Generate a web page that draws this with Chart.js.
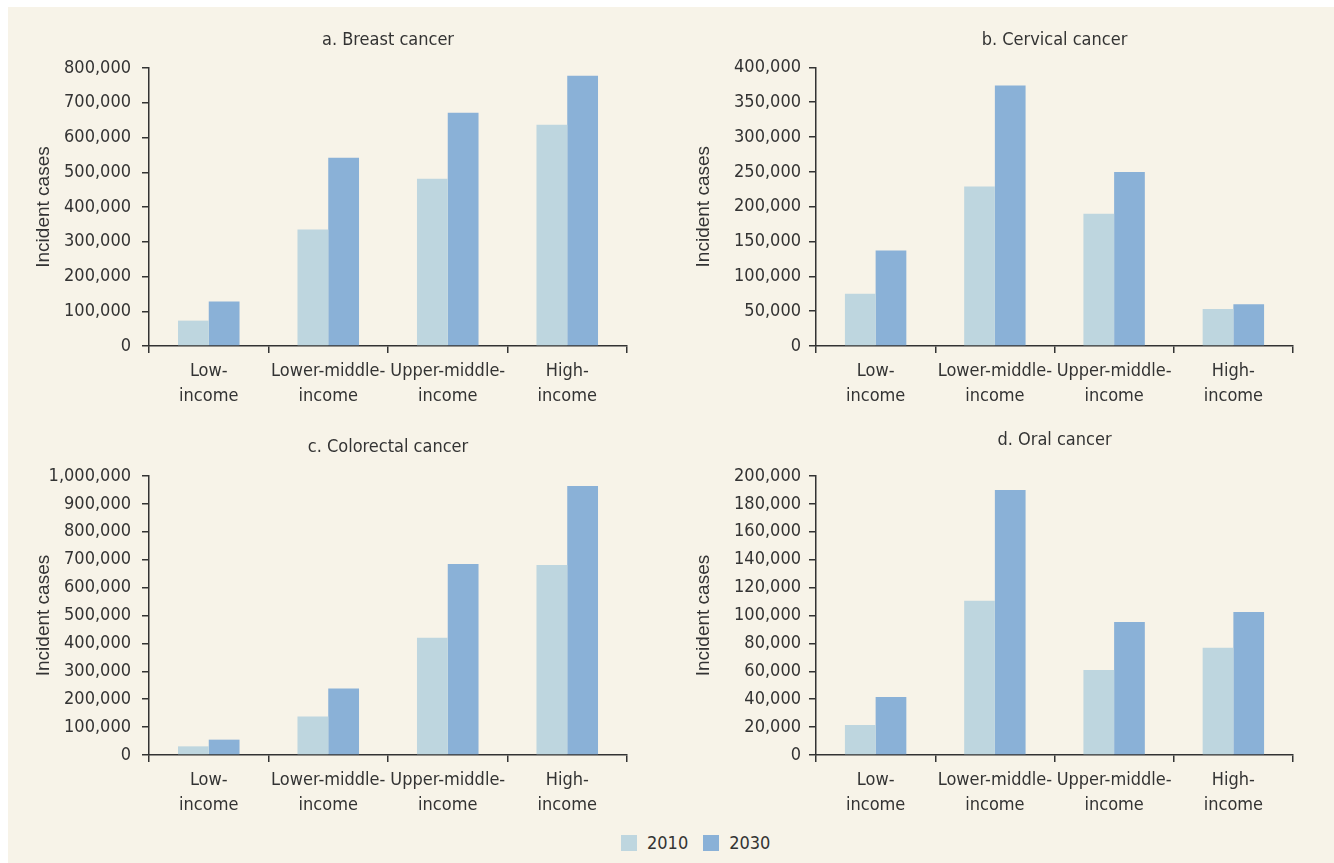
<!DOCTYPE html>
<html>
<head>
<meta charset="utf-8">
<script src="https://cdn.jsdelivr.net/npm/chart.js@4.4.1/dist/chart.umd.min.js"></script>
<style>
    html, body { margin: 0; padding: 0; background: #ffffff; }
    #page { position: relative; width: 1334px; height: 863px; overflow: hidden; }
    #paper { position: absolute; left: 8px; top: 7px; right: 0; bottom: 0; background: #f7f3e8; }
    .panel { position: absolute; }
    #legend { position: absolute; left: 621px; top: 832px; display: flex; align-items: center;
              font-family: "DejaVu Sans Condensed", "DejaVu Sans", sans-serif; font-stretch: condensed;
              font-size: 18px; color: #333; }
    #legend .box { width: 16px; height: 16px; margin-right: 10px; }
    #legend .item { display: flex; align-items: center; margin-right: 15px; }
</style>
</head>
<body>
<div id="page">
    <div id="paper"></div>
    <canvas id="chartA" class="panel" style="left:0px;top:0px;width:667px;height:420px" width="667" height="420"></canvas>
    <canvas id="chartB" class="panel" style="left:667px;top:0px;width:667px;height:420px" width="667" height="420"></canvas>
    <canvas id="chartC" class="panel" style="left:0px;top:406px;width:667px;height:420px" width="667" height="420"></canvas>
    <canvas id="chartD" class="panel" style="left:667px;top:406px;width:667px;height:420px" width="667" height="420"></canvas>
    <div id="legend"></div>
</div>
<script>
// Data
const incomeGroups = [['Low-', 'income'], ['Lower-middle-', 'income'], ['Upper-middle-', 'income'], ['High-', 'income']];
const years = ['2010', '2030'];

const breast2010 = [73000, 335000, 481000, 637000];
const breast2030 = [128000, 542000, 671000, 778000];
const cervical2010 = [75000, 229000, 190000, 53000];
const cervical2030 = [137000, 374000, 250000, 60000];
const colorectal2010 = [31000, 138000, 420000, 681000];
const colorectal2030 = [55000, 238000, 685000, 964000];
const oral2010 = [21500, 110500, 61000, 76800];
const oral2030 = [41600, 190000, 95300, 102500];

const yearColors = ['#bed6df', '#8ab1d7'];

const narrowFont = '"DejaVu Sans Condensed", "DejaVu Sans", sans-serif';
const plainFont = '"Liberation Sans", Arial, sans-serif';
const inkColor = '#333333';

Chart.defaults.color = inkColor;
Chart.defaults.font.family = narrowFont;

// Build one panel; the numbers in opts only place the plot area
function makePanel(canvasId, title, data2010, data2030, yMax, yStep, opts) {
    const ctx = document.getElementById(canvasId).getContext('2d');
    return new Chart(ctx, {
        type: 'bar',
        data: {
            labels: incomeGroups,
            datasets: [
                { label: years[0], data: data2010, backgroundColor: yearColors[0], borderWidth: 0 },
                { label: years[1], data: data2030, backgroundColor: yearColors[1], borderWidth: 0 }
            ]
        },
        options: {
            responsive: false,
            animation: false,
            devicePixelRatio: 1,
            categoryPercentage: 0.515,
            barPercentage: 1.0,
            layout: { padding: { left: 0, right: opts.right, top: 0, bottom: 0 } },
            plugins: {
                legend: { display: false },
                tooltip: { enabled: false },
                title: {
                    display: true,
                    text: title,
                    fullSize: false,
                    color: inkColor,
                    font: { family: narrowFont, size: 18, weight: 'normal' },
                    padding: { top: opts.titleTop, bottom: opts.titleBottom }
                }
            },
            scales: {
                x: {
                    grid: { display: true, drawOnChartArea: false, drawTicks: true, tickLength: 7, color: inkColor, lineWidth: 1.5, offset: true },
                    border: { display: true, color: inkColor, width: 1.5 },
                    ticks: { color: inkColor, padding: 6, maxRotation: 0, autoSkip: false,
                             font: { family: narrowFont, size: 18, lineHeight: '25px' } },
                    afterFit: function(scale) { scale.height = opts.xHeight; }
                },
                y: {
                    min: 0,
                    max: yMax,
                    grid: { display: true, drawOnChartArea: false, drawTicks: true, tickLength: 7, color: inkColor, lineWidth: 1.5 },
                    border: { display: true, color: inkColor, width: 1.5 },
                    ticks: {
                        stepSize: yStep,
                        autoSkip: false,
                        color: inkColor,
                        padding: opts.tickPad,
                        font: { family: narrowFont, size: 18 },
                        callback: function(value) { return value.toLocaleString('en-US'); }
                    },
                    title: {
                        display: true,
                        text: 'Incident cases',
                        color: inkColor,
                        font: { family: plainFont, size: 19 },
                        padding: { top: opts.yTitlePad, bottom: 0 }
                    },
                    afterFit: function(scale) { scale.width = opts.yWidth; }
                }
            }
        }
    });
}

makePanel('chartA', 'a. Breast cancer', breast2010, breast2030, 800000, 100000,
    { right: 40, titleTop: 30, titleBottom: 16.4, xHeight: 74, yWidth: 149, tickPad: 11, yTitlePad: 32.6 });
makePanel('chartB', 'b. Cervical cancer', cervical2010, cervical2030, 400000, 50000,
    { right: 41, titleTop: 30, titleBottom: 15.8, xHeight: 74, yWidth: 149, tickPad: 8, yTitlePad: 25.6 });
makePanel('chartC', 'c. Colorectal cancer', colorectal2010, colorectal2030, 1000000, 100000,
    { right: 40, titleTop: 30.2, titleBottom: 18.2, xHeight: 71, yWidth: 149, tickPad: 11, yTitlePad: 32.6 });
makePanel('chartD', 'd. Oral cancer', oral2010, oral2030, 200000, 20000,
    { right: 41, titleTop: 23.2, titleBottom: 25.2, xHeight: 71, yWidth: 149, tickPad: 8, yTitlePad: 25.6 });

// Shared legend under the panels
const legend = document.getElementById('legend');
years.forEach(function(year, i) {
    const item = document.createElement('div');
    item.className = 'item';
    const box = document.createElement('div');
    box.className = 'box';
    box.style.background = yearColors[i];
    const label = document.createElement('span');
    label.textContent = year;
    item.appendChild(box);
    item.appendChild(label);
    legend.appendChild(item);
});
</script>
</body>
</html>
